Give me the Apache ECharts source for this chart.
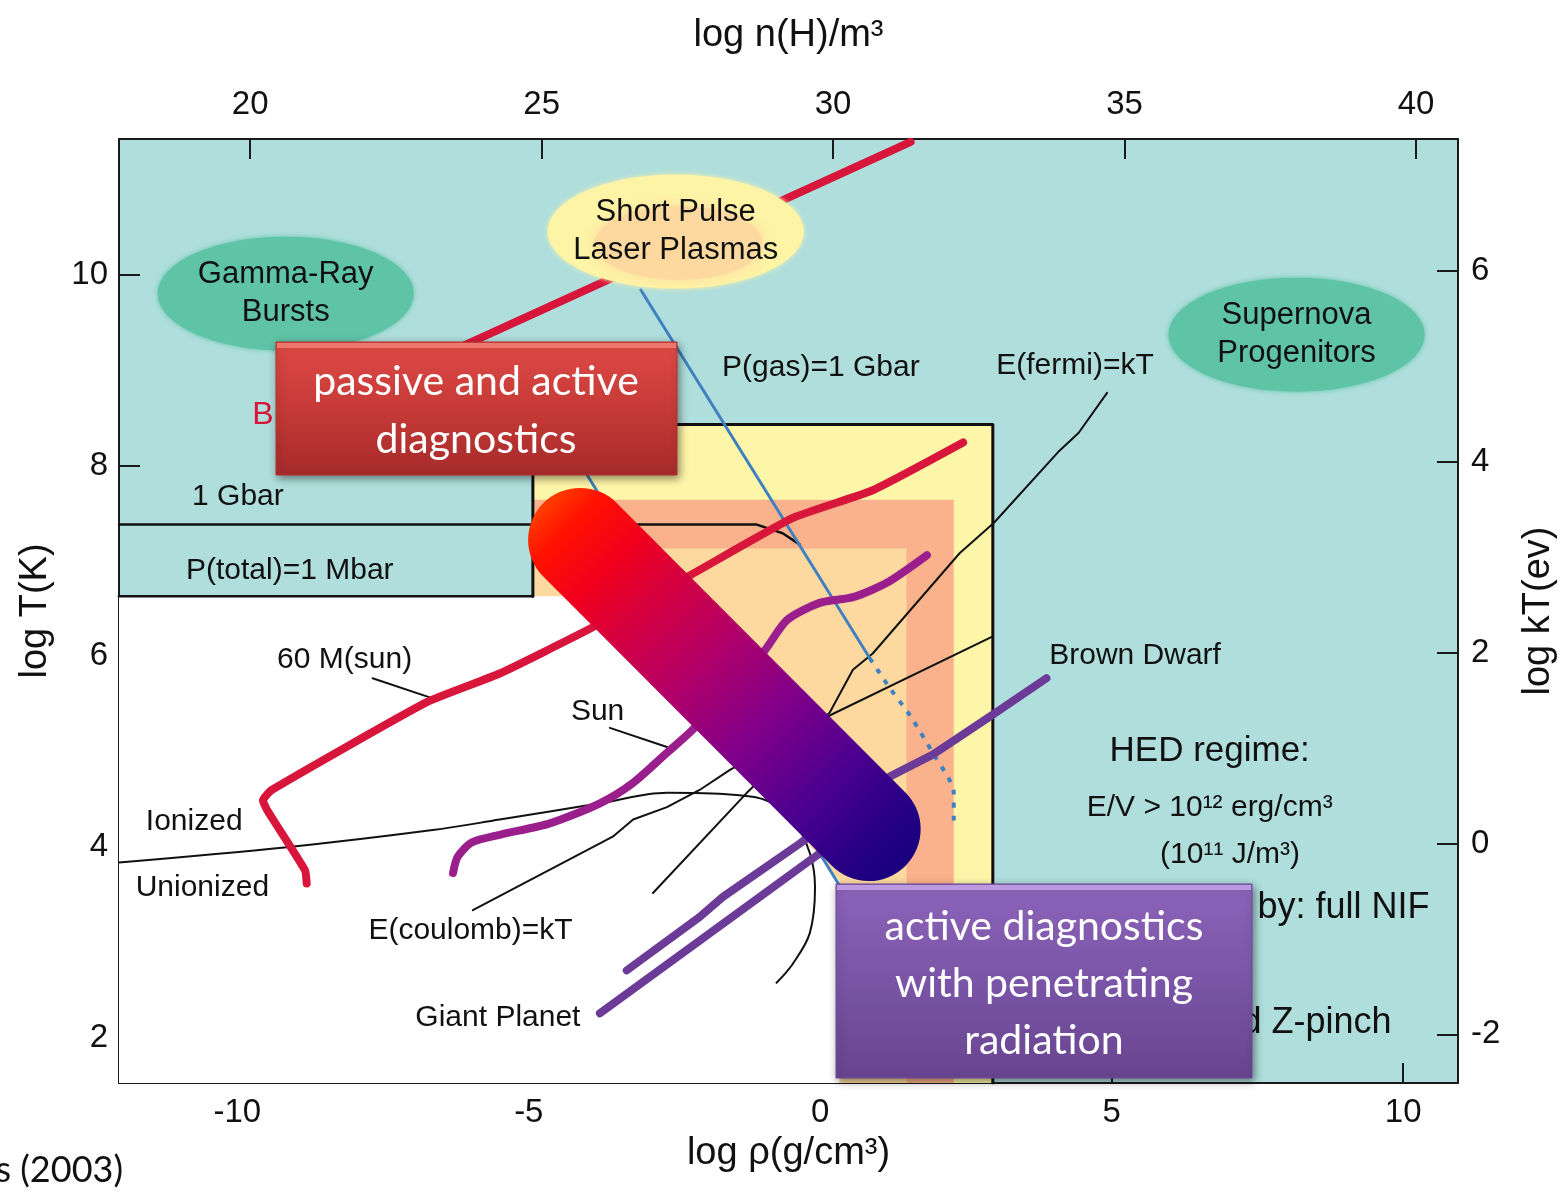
<!DOCTYPE html>
<html>
<head>
<meta charset="utf-8">
<script src="https://cdn.jsdelivr.net/npm/echarts@6/dist/echarts.min.js"></script>
<style>
  html, body { margin: 0; padding: 0; background: #ffffff; }
  #chart { width: 1568px; height: 1199px; }
</style>
</head>
<body>
<div id="chart"></div>
<script>
// ---- axes -------------------------------------------------------------
const rhoRange = [-12.03, 10.94];        // log rho (g/cm^3)
const logTRange = [1.53, 11.42];         // log T (K)
const nHOffset = 29.78;                  // log n(H)/m^3 = log rho + 29.78
const kTOffset = 4.04;                   // log kT(eV) = log T - 4.04
const rhoTicks = [-10, -5, 0, 5, 10];
const nHTicks = [20, 25, 30, 35, 40];
const logTTicks = [2, 4, 6, 8, 10];
const kTTicks = [-2, 0, 2, 4, 6];

// ---- shaded regions (log rho, log T) ----------------------------------
const hedBox = [[-4.93, 8.43], [2.96, 8.43], [2.96, 1.53], [-4.93, 1.53]];
const salmonBand = [[-4.93, 7.64], [2.29, 7.64], [2.29, 1.53], [-4.93, 1.53]];
const peachCore = [[-4.93, 7.13], [1.48, 7.13], [1.48, 1.53], [-4.93, 1.53]];
const lowPressure = [[-12.03, 6.63], [-3.78, 6.63], [0.33, 3.65], [0.33, 1.53], [-12.03, 1.53]];

// ---- boundary lines ---------------------------------------------------
const gbarBoundary = [[-12.03, 7.38], [-1.09, 7.38], [-0.645, 7.29], [-0.35, 7.17]];
const mbarBoundary = [[-12.03, 6.63], [-4.93, 6.63]];
const hedFrame = [[-4.93, 6.63], [-4.93, 8.43], [2.96, 8.43], [2.96, 1.53]];
const ionization = [[-12.03, 3.84], [-9.15, 4.00], [-6.65, 4.18], [-5.50, 4.29], [-3.78, 4.46],
  [-2.63, 4.57], [-1.50, 4.55], [-0.92, 4.49], [-0.47, 4.29], [-0.18, 3.94], [-0.09, 3.58],
  [-0.18, 3.10], [-0.47, 2.78], [-0.75, 2.58]];
const coulombKT = [[-5.96, 3.34], [-3.56, 4.11], [-3.21, 4.29], [-2.63, 4.42], [-2.07, 4.60],
  [-1.55, 4.81], [0.16, 5.38], [2.96, 6.21]];
const fermiKT = [[-2.87, 3.52], [-1.26, 4.57], [0.16, 5.41], [0.56, 5.86], [0.90, 6.03],
  [2.39, 7.08], [2.98, 7.40], [4.08, 8.14], [4.43, 8.34], [4.92, 8.76]];
const gasGbar = [[-3.08, 9.84], [0.85, 5.98]];
const gasGbarExtension = [[0.85, 5.98], [1.19, 5.67], [1.54, 5.38], [1.93, 4.99], [2.22, 4.70],
  [2.29, 4.57], [2.29, 4.28]];
const gasParallel = [[-4.21, 8.11], [0.33, 3.60]];
const burstLine = [[1.55, 11.39], [-5.92, 9.31], [-7.5, 8.87]];

// ---- object tracks ----------------------------------------------------
const star60 = [[-8.81, 3.62], [-8.84, 3.76], [-9.49, 4.39], [-9.56, 4.49], [-9.41, 4.60],
  [-6.75, 5.52], [-5.50, 5.82], [-4.01, 6.27], [-2.29, 6.83], [-0.47, 7.45], [0.90, 7.74], [2.45, 8.24]];
const sunTrack = [[-6.30, 3.73], [-6.22, 3.90], [-5.98, 4.05], [-5.50, 4.13], [-4.64, 4.25],
  [-3.78, 4.46], [-3.22, 4.67], [-2.63, 4.99], [-2.19, 5.23], [-0.99, 6.03], [-0.57, 6.38],
  [-0.01, 6.56], [0.56, 6.62], [1.14, 6.77], [1.83, 7.06]];
const brownDwarf = [[-3.32, 2.71], [-2.07, 3.27], [-1.67, 3.48], [-0.35, 4.04], [1.19, 4.74],
  [1.93, 4.97], [2.96, 5.39], [3.88, 5.77]];
const giantPlanet = [[-3.78, 2.26], [-0.18, 3.86], [0.51, 4.16]];

// ---- leader lines -----------------------------------------------------
const star60Leader = [[-7.68, 5.77], [-6.70, 5.57]];
const sunLeader = [[-3.61, 5.25], [-2.63, 5.05]];

// ---- diagnostics band --------------------------------------------------
const diagnosticBand = [[-4.12, 7.22], [0.83, 4.19]];

// ---- labelled regions (ellipses) ----------------------------------------
const bubbleCenters = [[-9.17, 9.80], [-2.48, 10.45], [8.17, 9.37]];
const bubbleTexts = ['Gamma-Ray\nBursts', 'Short Pulse\nLaser Plasmas', 'Supernova\nProgenitors'];
const bubbleColors = ['#5fc3a5', '#fdf4a6', '#5fc3a5'];
const laserCore = [[-2.43, 10.33]];

// ---- annotations ------------------------------------------------------
const plotLabels = [
  [0.01, 9.02, 'P(gas)=1 Gbar'],
  [4.37, 9.04, 'E(fermi)=kT'],
  [-9.99, 7.67, '1 Gbar'],
  [-9.10, 6.90, 'P(total)=1 Mbar'],
  [-8.16, 5.96, '60 M(sun)'],
  [-3.82, 5.42, 'Sun'],
  [-10.74, 4.27, 'Ionized'],
  [-10.60, 3.58, 'Unionized'],
  [-6.00, 3.13, 'E(coulomb)=kT'],
  [-5.53, 2.21, 'Giant Planet'],
  [5.40, 6.01, 'Brown Dwarf'],
  [6.68, 4.41, 'E/V > 10¹² erg/cm³'],
  [7.03, 3.92, '(10¹¹ J/m³)']
];
const headingLabels = [[6.68, 5.00, 'HED regime:']];
const rightLabels = [[10.45, 3.36, 'Accessible by: full NIF'], [9.80, 2.16, 'and Z-pinch']];
const burstLabel = [[-9.56, 8.53, 'B']];

const FONT = "'Liberation Sans', Arial, Helvetica, sans-serif";
const SLIDE_FONT = "Lato, 'Open Sans', sans-serif";
const INK = '#111111';

function region(points, color, z) {
  return {
    type: 'custom', coordinateSystem: 'cartesian2d', silent: true, z: z,
    data: [points[0]],
    renderItem: function (params, api) {
      return {
        type: 'polygon',
        shape: { points: points.map(function (p) { return api.coord(p); }) },
        style: { fill: color }
      };
    }
  };
}

function curve(data, color, width, extra) {
  const s = {
    type: 'line', data: data, showSymbol: false, symbol: 'none', silent: true, z: 3,
    lineStyle: { color: color, width: width, cap: 'round', join: 'round' }
  };
  return Object.assign(s, extra || {});
}

function textSeries(items, font, color, align, z) {
  return {
    type: 'custom', coordinateSystem: 'cartesian2d', silent: true, z: z || 5,
    data: items.map(function (d) { return [d[0], d[1]]; }),
    renderItem: function (params, api) {
      const p = api.coord([api.value(0), api.value(1)]);
      return {
        type: 'text', x: p[0], y: p[1],
        style: {
          text: items[params.dataIndex][2], fill: color, font: font,
          align: align || 'center', verticalAlign: 'middle'
        }
      };
    }
  };
}

const chart = echarts.init(document.getElementById('chart'), null, { renderer: 'canvas' });

const axisLineStyle = { color: '#1a1a1a', width: 2 };
const tickStyle = { color: '#1a1a1a', width: 2 };
const tickLabel = { fontSize: 33, fontFamily: FONT, color: INK };

const option = {
  animation: false,
  backgroundColor: '#ffffff',
  grid: { left: 119, right: 110, top: 139, bottom: 116, show: true, backgroundColor: '#afdedc', borderWidth: 0 },
  xAxis: [
    {
      type: 'value', position: 'bottom', min: rhoRange[0], max: rhoRange[1],
      name: 'log ρ(g/cm³)', nameLocation: 'middle', nameGap: 52,
      nameTextStyle: { fontSize: 38, fontFamily: FONT, color: INK },
      axisLine: { show: true, onZero: false, lineStyle: axisLineStyle },
      axisTick: { show: true, inside: true, length: 20, customValues: rhoTicks, lineStyle: tickStyle },
      axisLabel: Object.assign({ customValues: rhoTicks, margin: 13 }, tickLabel),
      splitLine: { show: false }
    },
    {
      type: 'value', position: 'top', min: rhoRange[0] + nHOffset, max: rhoRange[1] + nHOffset,
      name: 'log n(H)/m³', nameLocation: 'middle', nameGap: 84,
      nameTextStyle: { fontSize: 38, fontFamily: FONT, color: INK },
      axisLine: { show: true, onZero: false, lineStyle: axisLineStyle },
      axisTick: { show: true, inside: true, length: 20, customValues: nHTicks, lineStyle: tickStyle },
      axisLabel: Object.assign({ customValues: nHTicks, margin: 18 }, tickLabel),
      splitLine: { show: false }
    }
  ],
  yAxis: [
    {
      type: 'value', position: 'left', min: logTRange[0], max: logTRange[1],
      name: 'log T(K)', nameLocation: 'middle', nameGap: 64,
      nameTextStyle: { fontSize: 38, fontFamily: FONT, color: INK },
      axisLine: { show: true, onZero: false, lineStyle: axisLineStyle },
      axisTick: { show: true, inside: true, length: 21, customValues: logTTicks, lineStyle: tickStyle },
      axisLabel: Object.assign({ customValues: logTTicks, margin: 11 }, tickLabel),
      splitLine: { show: false }
    },
    {
      type: 'value', position: 'right', min: logTRange[0] - kTOffset, max: logTRange[1] - kTOffset,
      name: 'log kT(ev)', nameLocation: 'middle', nameGap: 62,
      nameTextStyle: { fontSize: 38, fontFamily: FONT, color: INK },
      axisLine: { show: true, onZero: false, lineStyle: axisLineStyle },
      axisTick: { show: true, inside: true, length: 21, customValues: kTTicks, lineStyle: tickStyle },
      axisLabel: Object.assign({ customValues: kTTicks, margin: 13 }, tickLabel),
      splitLine: { show: false }
    }
  ],
  series: [
    region(hedBox, '#fdf5a8', 1),
    region(salmonBand, '#f9b28b', 1),
    region(peachCore, '#fdd9a0', 1),
    region(lowPressure, '#ffffff', 1),

    curve(hedFrame, INK, 3),
    curve(gbarBoundary, INK, 2.5),
    curve(mbarBoundary, INK, 2.5),
    curve(ionization, INK, 2, { smooth: 0.35 }),
    curve(coulombKT, INK, 2),
    curve(fermiKT, INK, 2),
    curve(star60Leader, INK, 2),
    curve(sunLeader, INK, 2),
    curve(gasGbar, '#3f80c0', 3),
    curve(gasParallel, '#3f80c0', 3),
    curve(gasGbarExtension, '#3f80c0', 4, { smooth: 0.3, lineStyle: { color: '#3f80c0', width: 4, type: [5, 8], cap: 'butt' } }),
    curve(burstLine, '#d8163c', 8),
    curve(star60, '#d8163c', 8, { smooth: 0.15 }),
    curve(sunTrack, '#9a1e8c', 8, { smooth: 0.25 }),
    curve(brownDwarf, '#6b3b97', 8),
    curve(giantPlanet, '#6b3b97', 8),

    {
      type: 'custom', coordinateSystem: 'cartesian2d', silent: true, z: 4,
      data: bubbleCenters,
      renderItem: function (params, api) {
        const p = api.coord([api.value(0), api.value(1)]);
        return {
          type: 'circle', x: p[0], y: p[1], scaleX: 128 / 57,
          shape: { cx: 0, cy: 0, r: 57 },
          style: { fill: bubbleColors[params.dataIndex], shadowBlur: 5, shadowColor: bubbleColors[params.dataIndex] }
        };
      }
    },
    {
      type: 'custom', coordinateSystem: 'cartesian2d', silent: true, z: 4,
      data: laserCore,
      renderItem: function (params, api) {
        const p = api.coord([api.value(0), api.value(1)]);
        return {
          type: 'circle', x: p[0], y: p[1], scaleX: 84 / 37,
          shape: { cx: 0, cy: 0, r: 37 },
          style: { fill: '#fdd9a0', shadowBlur: 14, shadowColor: '#fdd9a0' }
        };
      }
    },
    {
      type: 'custom', coordinateSystem: 'cartesian2d', silent: true, z: 5,
      data: bubbleCenters,
      renderItem: function (params, api) {
        const p = api.coord([api.value(0), api.value(1)]);
        return {
          type: 'text', x: p[0], y: p[1],
          style: {
            text: bubbleTexts[params.dataIndex], fill: INK, font: '31px ' + FONT,
            lineHeight: 38, align: 'center', verticalAlign: 'middle'
          }
        };
      }
    },

    textSeries(plotLabels, '30px ' + FONT, INK, 'center'),
    textSeries(headingLabels, '35px ' + FONT, INK, 'center'),
    textSeries(rightLabels, '36px ' + FONT, INK, 'right'),
    textSeries(burstLabel, '32px ' + FONT, '#d8163c', 'center'),

    curve(diagnosticBand, 'transparent', 104, {
      z: 6,
      lineStyle: {
        width: 104, cap: 'round',
        color: new echarts.graphic.LinearGradient(0, 0, 1, 1, [
          { offset: 0, color: '#ff5a00' },
          { offset: 0.1, color: '#ff1200' },
          { offset: 0.2, color: '#f2001c' },
          { offset: 0.3, color: '#d6003e' },
          { offset: 0.45, color: '#b0006a' },
          { offset: 0.6, color: '#80008a' },
          { offset: 0.75, color: '#4e008f' },
          { offset: 0.9, color: '#220083' },
          { offset: 1, color: '#14007c' }
        ])
      }
    })
  ],
  graphic: [
    {
      type: 'rect', z: 100, x: 276, y: 342,
      shape: { width: 401, height: 133 },
      style: {
        fill: new echarts.graphic.LinearGradient(0, 0, 0, 1, [
          { offset: 0, color: '#de4a45' },
          { offset: 0.5, color: '#c63a37' },
          { offset: 1, color: '#a62b2b' }
        ]),
        stroke: '#b33232', lineWidth: 1,
        shadowBlur: 8, shadowOffsetX: 2, shadowOffsetY: 3, shadowColor: 'rgba(0,0,0,0.45)'
      }
    },
    {
      type: 'rect', z: 101, x: 277, y: 343,
      shape: { width: 399, height: 5 },
      style: { fill: 'rgba(255,160,150,0.55)' }
    },
    {
      type: 'text', z: 102, x: 476, y: 411,
      style: {
        text: 'passive and active\ndiagnostics', fill: '#ffffff', font: '41px ' + SLIDE_FONT,
        lineHeight: 58, align: 'center', verticalAlign: 'middle'
      }
    },
    {
      type: 'rect', z: 100, x: 836, y: 884,
      shape: { width: 416, height: 194 },
      style: {
        fill: new echarts.graphic.LinearGradient(0, 0, 0, 1, [
          { offset: 0, color: '#8c63b9' },
          { offset: 0.5, color: '#7a55a7' },
          { offset: 1, color: '#68448f' }
        ]),
        stroke: '#6e4a98', lineWidth: 1,
        shadowBlur: 8, shadowOffsetX: 2, shadowOffsetY: 3, shadowColor: 'rgba(0,0,0,0.45)'
      }
    },
    {
      type: 'rect', z: 101, x: 837, y: 885,
      shape: { width: 414, height: 5 },
      style: { fill: 'rgba(210,180,245,0.7)' }
    },
    {
      type: 'text', z: 102, x: 1044, y: 984,
      style: {
        text: 'active diagnostics\nwith penetrating\nradiation', fill: '#ffffff', font: '41px ' + SLIDE_FONT,
        lineHeight: 57, align: 'center', verticalAlign: 'middle'
      }
    },
    {
      type: 'text', z: 102, x: 123, y: 1170,
      style: { text: 'Press (2003)', fill: '#111111', font: '36px ' + SLIDE_FONT, align: 'right', verticalAlign: 'middle' }
    }
  ]
};

chart.setOption(option);
</script>
</body>
</html>
